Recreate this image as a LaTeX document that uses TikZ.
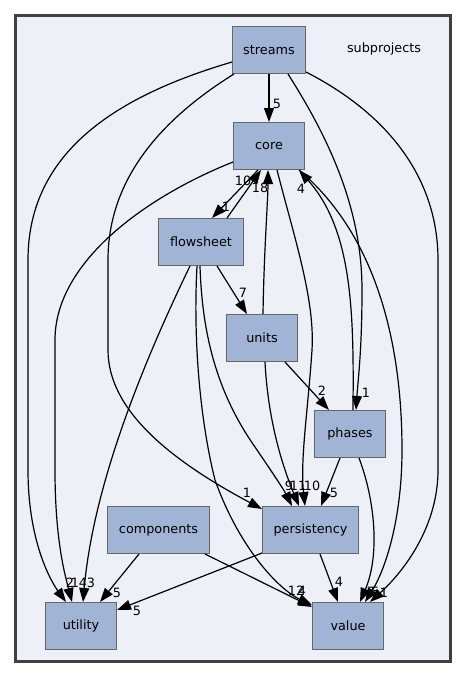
\documentclass[tikz,border=0pt]{standalone}
\usepackage{fontspec}
\setmainfont{DejaVu Sans}
\usetikzlibrary{arrows.meta}
\definecolor{nodefill}{HTML}{A2B4D6}
\definecolor{nodeborder}{HTML}{666666}
\definecolor{clusterfill}{HTML}{EDF0F7}
\definecolor{clusterborder}{HTML}{404040}
\begin{document}
\begin{tikzpicture}[x=1pt,y=-1pt,
  dirbox/.style={draw=nodeborder, fill=nodefill, line width=1pt, inner sep=0pt,
    minimum height=47pt, font=\fontsize{12.8}{15}\selectfont, text=black},
  dep/.style={line width=1.2pt, draw=black, -{Triangle[length=14pt,width=10pt]}},
  elbl/.style={inner sep=0pt, font=\fontsize{12.8}{15}\selectfont, text=black}]
\useasboundingbox (0,0) rectangle (467,677);
\fill[white] (0,0) rectangle (467,677);
\node[draw=clusterborder, fill=clusterfill, line width=3pt, inner sep=0pt,
  minimum width=435pt, minimum height=645.5pt] (cluster) at (232.75,338.25) {};
\node[elbl] (sublbl) at (384,49) {subprojects};

% directories
\node[dirbox, minimum width=73pt] (streams) at (269,50) {streams};
\node[dirbox, minimum width=71pt] (core) at (269,146) {core};
\node[dirbox, minimum width=85pt] (flowsheet) at (201,242) {flowsheet};
\node[dirbox, minimum width=71pt] (units) at (262,338) {units};
\node[dirbox, minimum width=71pt] (phases) at (350,434) {phases};
\node[dirbox, minimum width=96pt] (persistency) at (310.5,530) {persistency};
\node[dirbox, minimum width=102pt] (components) at (158.5,530) {components};
\node[dirbox, minimum width=71pt] (utility) at (81,626) {utility};
\node[dirbox, minimum width=71pt] (value) at (348,626) {value};

% dependencies
\draw[dep] (streams.south) -- (core.north);
\draw[dep] ([yshift=-12pt]streams.west) .. controls (120,95) and (28,150) .. (28,260)
  -- (28,470) .. controls (28,540) and (50,580) .. ([xshift=-15pt]utility.north);
\draw[dep] ([xshift=2pt]streams.south west) .. controls (160,120) and (108,180) .. (108,260)
  -- (108,350) .. controls (108,410) and (170,460) .. ([yshift=-3pt]persistency.north west);
\draw[dep] ([xshift=19pt]streams.south) .. controls (330,140) and (362,210) .. (362,290)
  .. controls (362,350) and (358,380) .. ([xshift=6pt]phases.north);
\draw[dep] ([yshift=2pt]streams.south east) .. controls (390,115) and (438,180) .. (438,260)
  -- (438,470) .. controls (438,530) and (400,575) .. ([xshift=22pt]value.north);

\draw[dep] ([yshift=-16pt]core.west) .. controls (150,195) and (55,260) .. (55,340)
  -- (55,470) .. controls (55,540) and (65,575) .. ([xshift=-9pt]utility.north);
\draw[dep] ([xshift=-11pt]core.south) -- ([xshift=11pt]flowsheet.north);
\draw[dep] ([xshift=26pt]flowsheet.north) -- ([xshift=-8pt]core.south);
\draw[dep] ([xshift=1pt]units.north) .. controls (264,250) and (268,200) .. ([xshift=-1pt]core.south);
\draw[dep] ([xshift=8pt]core.south) .. controls (295,240) and (315,300) .. (312,350)
  .. controls (308,410) and (300,460) .. ([xshift=-5.5pt]persistency.north);
\draw[dep] ([xshift=30pt]core.south) .. controls (370,230) and (402,330) .. (402,450)
  .. controls (402,520) and (385,570) .. ([xshift=17pt]value.north);
\draw[dep] ([xshift=3pt]phases.north) .. controls (354,310) and (352,230) .. ([xshift=30pt]core.south);

\draw[dep] ([xshift=16pt]flowsheet.south) -- ([xshift=-15pt]units.north);
\draw[dep] ([xshift=-11pt]flowsheet.south) .. controls (130,390) and (92,500) .. ([xshift=2pt]utility.north);
\draw[dep] ([xshift=-1pt]flowsheet.south) .. controls (202,330) and (215,390) .. (255,447)
  .. controls (272,472) and (284,490) .. ([xshift=-18.5pt]persistency.north);
\draw[dep] ([xshift=-4pt]flowsheet.south) .. controls (193,340) and (200,420) .. (215,480)
  .. controls (240,550) and (280,590) .. ([yshift=-3pt]value.north west);

\draw[dep] ([xshift=3pt]units.south) .. controls (268,420) and (282,465) .. ([xshift=-11.5pt]persistency.north);
\draw[dep] ([xshift=23pt]units.south) -- ([xshift=-21pt]phases.north);

\draw[dep] ([xshift=-10pt]phases.south) -- ([xshift=10.5pt]persistency.north);
\draw[dep] ([xshift=9pt]phases.south) .. controls (375,500) and (380,555) .. ([xshift=12pt]value.north);

\draw[dep] ([xshift=9.5pt]persistency.south) -- ([xshift=-10pt]value.north);
\draw[dep] ([yshift=1pt]persistency.south west) -- ([yshift=-8pt]utility.north east);
\draw[dep] ([xshift=-19.5pt]components.south) -- ([xshift=19pt]utility.north);
\draw[dep] ([xshift=46.5pt]components.south) -- ([yshift=-5pt]value.north west);

% edge labels
\node[elbl] (l01) at (277,104) {5};
\node[elbl] (l02) at (247,493) {1};
\node[elbl] (l03) at (366,393) {1};
\node[elbl] (l04) at (384,593) {1};
\node[elbl] (l05) at (70,583) {2};
\node[elbl] (l06) at (79,583) {14};
\node[elbl] (l07) at (91,583) {3};
\node[elbl] (l08) at (226,207) {1};
\node[elbl] (l09) at (243,181) {10};
\node[elbl] (l10) at (260,188) {18};
\node[elbl] (l11) at (301,189) {4};
\node[elbl] (l12) at (312,486) {10};
\node[elbl] (l13) at (289,486) {9};
\node[elbl] (l14) at (298,486) {11};
\node[elbl] (l15) at (334,493) {5};
\node[elbl] (l16) at (243,293) {7};
\node[elbl] (l17) at (322,391) {2};
\node[elbl] (l18) at (371,592) {7};
\node[elbl] (l19) at (375,592) {6};
\node[elbl] (l20) at (296,591) {12};
\node[elbl] (l21) at (302,591) {4};
\node[elbl] (l22) at (339,582) {4};
\node[elbl] (l23) at (117,593) {5};
\node[elbl] (l24) at (137,611) {5};
\end{tikzpicture}
\end{document}
